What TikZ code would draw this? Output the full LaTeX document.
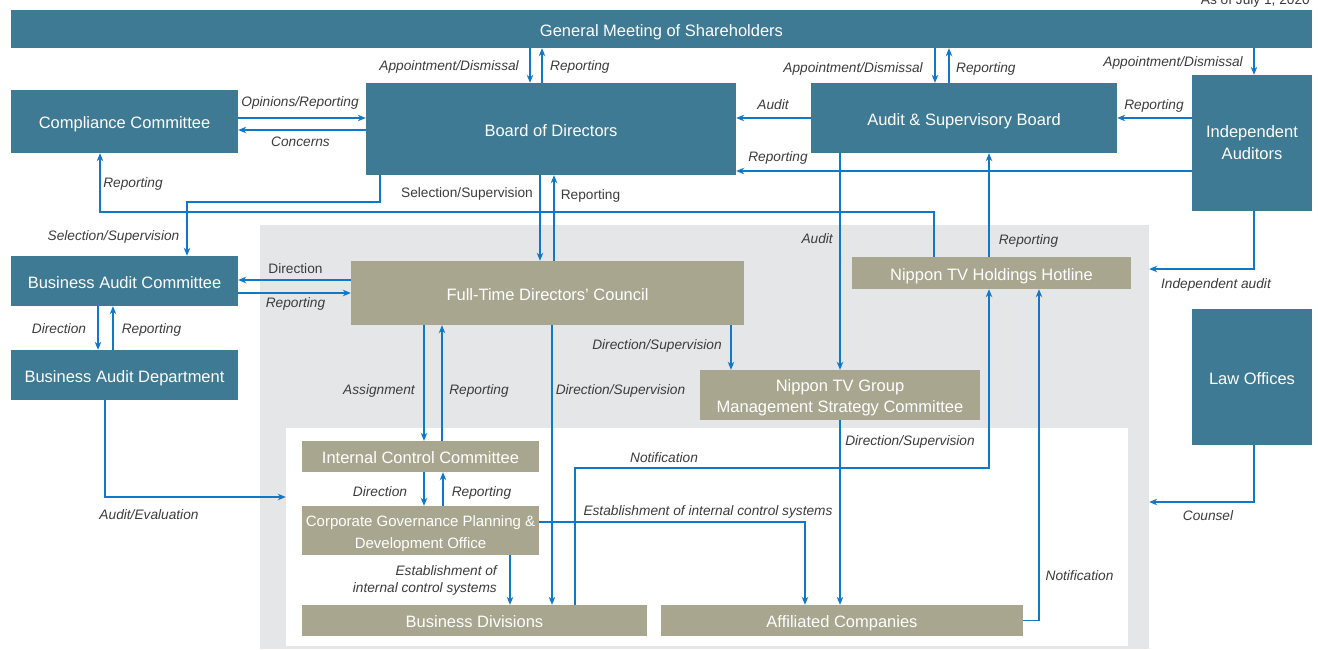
\documentclass[tikz,border=0pt]{standalone}
\usepackage{fontspec}
\setmainfont{Liberation Sans}
\usetikzlibrary{arrows.meta}

\definecolor{boxteal}{RGB}{62,122,147}
\definecolor{boxkhaki}{RGB}{168,166,143}
\definecolor{linkblue}{RGB}{16,120,200}
\definecolor{areagray}{RGB}{229,230,232}
\definecolor{labelgray}{RGB}{60,60,60}

\tikzset{
  boxbase/.style={text=white, inner sep=0pt, align=center, font=\fontsize{16.5}{22}\selectfont},
  oneline/.style={text height=14.8pt, text depth=0pt},
  tealbox/.style={boxbase, fill=boxteal},
  khakibox/.style={boxbase, fill=boxkhaki, font=\fontsize{16.5}{21}\selectfont},
  link/.style={draw=linkblue, line width=1.3pt, -{Stealth[length=8pt,width=6.5pt,inset=2.5pt]}},
  lbl/.style={text=labelgray, inner sep=0pt, text height=9.8pt, text depth=0pt, font=\fontsize{13.7}{17}\selectfont\itshape},
  uplbl/.style={lbl, font=\fontsize{13.7}{17}\selectfont},
}

\begin{document}
\begin{tikzpicture}[x=1pt, y=-1pt]
    \useasboundingbox (0,0) rectangle (1318,649);
    \clip (0,0) rectangle (1318,649);
    \node[uplbl, anchor=base east] (asof) at (1310,4) {As of July 1, 2020};

    % areas
    \node[fill=areagray, minimum width=889pt, minimum height=424pt, inner sep=0pt] (group) at (704.5,437) {};
    \node[fill=white, minimum width=842pt, minimum height=218pt, inner sep=0pt] (ctrl) at (707,537) {};

    % boxes
    \node[tealbox, oneline, minimum width=1301pt, minimum height=38pt] (gms) at (661.5,29) {General Meeting of Shareholders};
    \node[tealbox, oneline, minimum width=227pt, minimum height=63pt] (cc) at (124.5,121.5) {Compliance Committee};
    \node[tealbox, oneline, minimum width=370pt, minimum height=92pt] (bod) at (551,129) {Board of Directors};
    \node[tealbox, oneline, minimum width=306pt, minimum height=70pt] (asb) at (964,118) {Audit \& Supervisory Board};
    \node[tealbox, minimum width=120pt, minimum height=136pt] (ia) at (1252,143) {Independent\\Auditors};
    \node[tealbox, oneline, minimum width=227pt, minimum height=50pt] (bac) at (124.5,281) {Business Audit Committee};
    \node[tealbox, oneline, minimum width=227pt, minimum height=50pt] (bad) at (124.5,375) {Business Audit Department};
    \node[tealbox, oneline, minimum width=120pt, minimum height=136pt] (lo) at (1252,377) {Law Offices};
    \node[khakibox, oneline, minimum width=393pt, minimum height=64pt] (ftdc) at (547.5,293) {Full-Time Directors' Council};
    \node[khakibox, oneline, minimum width=279pt, minimum height=32pt] (hot) at (991.5,273) {Nippon TV Holdings Hotline};
    \node[khakibox, minimum width=280pt, minimum height=50pt] (msc) at (840,395) {\rule{0pt}{18pt}Nippon TV Group\\Management Strategy Committee};
    \node[khakibox, oneline, minimum width=237pt, minimum height=31pt] (icc) at (420.5,456.5) {Internal Control Committee};
    \node[khakibox, minimum width=237pt, minimum height=49pt, font=\fontsize{15}{22}\selectfont] (cgp) at (420.5,530.5) {\rule{0pt}{17pt}Corporate Governance Planning \&\\Development Office};
    \node[khakibox, oneline, minimum width=345pt, minimum height=31pt] (bdiv) at (474.5,620.5) {Business Divisions};
    \node[khakibox, oneline, minimum width=362pt, minimum height=31pt] (aff) at (842,620.5) {Affiliated Companies};

    % shareholders
    \draw[link] (gms.south -| 530,0) -- (bod.north -| 530,0);
    \draw[link] (bod.north -| 542,0) -- (gms.south -| 542,0);
    \draw[link] (gms.south -| 935,0) -- (asb.north -| 935,0);
    \draw[link] (asb.north -| 949,0) -- (gms.south -| 949,0);
    \draw[link] (gms.south -| 1254,0) -- (ia.north -| 1254,0);
    \node[lbl, anchor=east] (l1) at (519,66) {Appointment/Dismissal};
    \node[lbl, anchor=west] (l2) at (550,66) {Reporting};
    \node[lbl, anchor=east] (l3) at (923,68) {Appointment/Dismissal};
    \node[lbl, anchor=west] (l4) at (956,68) {Reporting};
    \node[lbl, anchor=east] (l5) at (1243,62) {Appointment/Dismissal};

    % board level
    \draw[link] (cc.east |- 0,118) -- (bod.west |- 0,118);
    \draw[link] (bod.west |- 0,130) -- (cc.east |- 0,130);
    \draw[link] (asb.west |- 0,118) -- (bod.east |- 0,118);
    \draw[link] (ia.west |- 0,118) -- (asb.east |- 0,118);
    \draw[link] (ia.west |- 0,171) -- (bod.east |- 0,171);
    \node[lbl] (l6) at (300,102) {Opinions/Reporting};
    \node[lbl] (l7) at (300.5,142) {Concerns};
    \node[lbl] (l8) at (773,105) {Audit};
    \node[lbl] (l9) at (1154,105) {Reporting};
    \node[lbl] (l10) at (778,157) {Reporting};

    \draw[link] (bod.south -| 380,0) |- (187,202) -- (bac.north -| 187,0);
    \draw[link] (hot.north -| 934,0) |- (100,212) -- (cc.south -| 100,0);
    \draw[link] (bod.south -| 540,0) -- (ftdc.north -| 540,0);
    \draw[link] (ftdc.north -| 554,0) -- (bod.south -| 554,0);
    \draw[link] (asb.south -| 840,0) -- (msc.north -| 840,0);
    \draw[link] (hot.north -| 989,0) -- (asb.south -| 989,0);
    \draw[link] (ia.south -| 1254,0) |- (group.east |- 0,269);
    \node[lbl] (l11) at (113.5,236) {Selection/Supervision};
    \node[lbl] (l12) at (133,183) {Reporting};
    \node[uplbl] (l13) at (467,193) {Selection/Supervision};
    \node[uplbl] (l14) at (590.5,195) {Reporting};
    \node[lbl, anchor=east] (l15) at (833,239) {Audit};
    \node[lbl] (l16) at (1028.5,240) {Reporting};
    \node[lbl] (l17) at (1216,284) {Independent audit};

    % business audit
    \draw[link] (ftdc.west |- 0,280) -- (bac.east |- 0,280);
    \draw[link] (bac.east |- 0,293) -- (ftdc.west |- 0,293);
    \draw[link] (bac.south -| 98,0) -- (bad.north -| 98,0);
    \draw[link] (bad.north -| 113,0) -- (bac.south -| 113,0);
    \draw[link] (bad.south -| 105,0) |- (ctrl.west |- 0,497);
    \node[uplbl] (l18) at (295.5,269) {Direction};
    \node[lbl] (l19) at (295.5,303) {Reporting};
    \node[lbl] (l20) at (59,329) {Direction};
    \node[lbl] (l21) at (151.5,329) {Reporting};
    \node[lbl] (l22) at (149,515) {Audit/Evaluation};

    % internal control
    \draw[link] (ftdc.south -| 424,0) -- (icc.north -| 424,0);
    \draw[link] (icc.north -| 442,0) -- (ftdc.south -| 442,0);
    \draw[link] (ftdc.south -| 552,0) -- (bdiv.north -| 552,0);
    \draw[link] (ftdc.south -| 731,0) -- (msc.north -| 731,0);
    \draw[link] (msc.south -| 840,0) -- (aff.north -| 840,0);
    \draw[link] (icc.south -| 424,0) -- (cgp.north -| 424,0);
    \draw[link] (cgp.north -| 443,0) -- (icc.south -| 443,0);
    \draw[link] (cgp.south -| 510,0) -- (bdiv.north -| 510,0);
    \draw[link] (cgp.east |- 0,522) -| (aff.north -| 805,0);
    \draw[link] (bdiv.north -| 575,0) |- (989,468) -- (hot.south -| 989,0);
    \draw[link] (aff.east) -| (hot.south -| 1039,0);
    \draw[link] (lo.south -| 1254,0) |- (group.east |- 0,502);
    \node[lbl] (l23) at (379,390) {Assignment};
    \node[lbl] (l24) at (479,390) {Reporting};
    \node[lbl] (l25) at (620.5,390) {Direction/Supervision};
    \node[lbl] (l26) at (657,345) {Direction/Supervision};
    \node[lbl] (l27) at (910,441) {Direction/Supervision};
    \node[lbl, text height=, text depth=, align=right, anchor=east] (l28) at (497,580) {Establishment of\\internal control systems};
    \node[lbl] (l29) at (708,511) {Establishment of internal control systems};
    \node[lbl] (l30) at (664,458) {Notification};
    \node[lbl] (l31) at (1079.5,576) {Notification};
    \node[lbl] (l32) at (380,492) {Direction};
    \node[lbl] (l33) at (481.5,492) {Reporting};
    \node[lbl] (l34) at (1208,516) {Counsel};
\end{tikzpicture}
\end{document}
